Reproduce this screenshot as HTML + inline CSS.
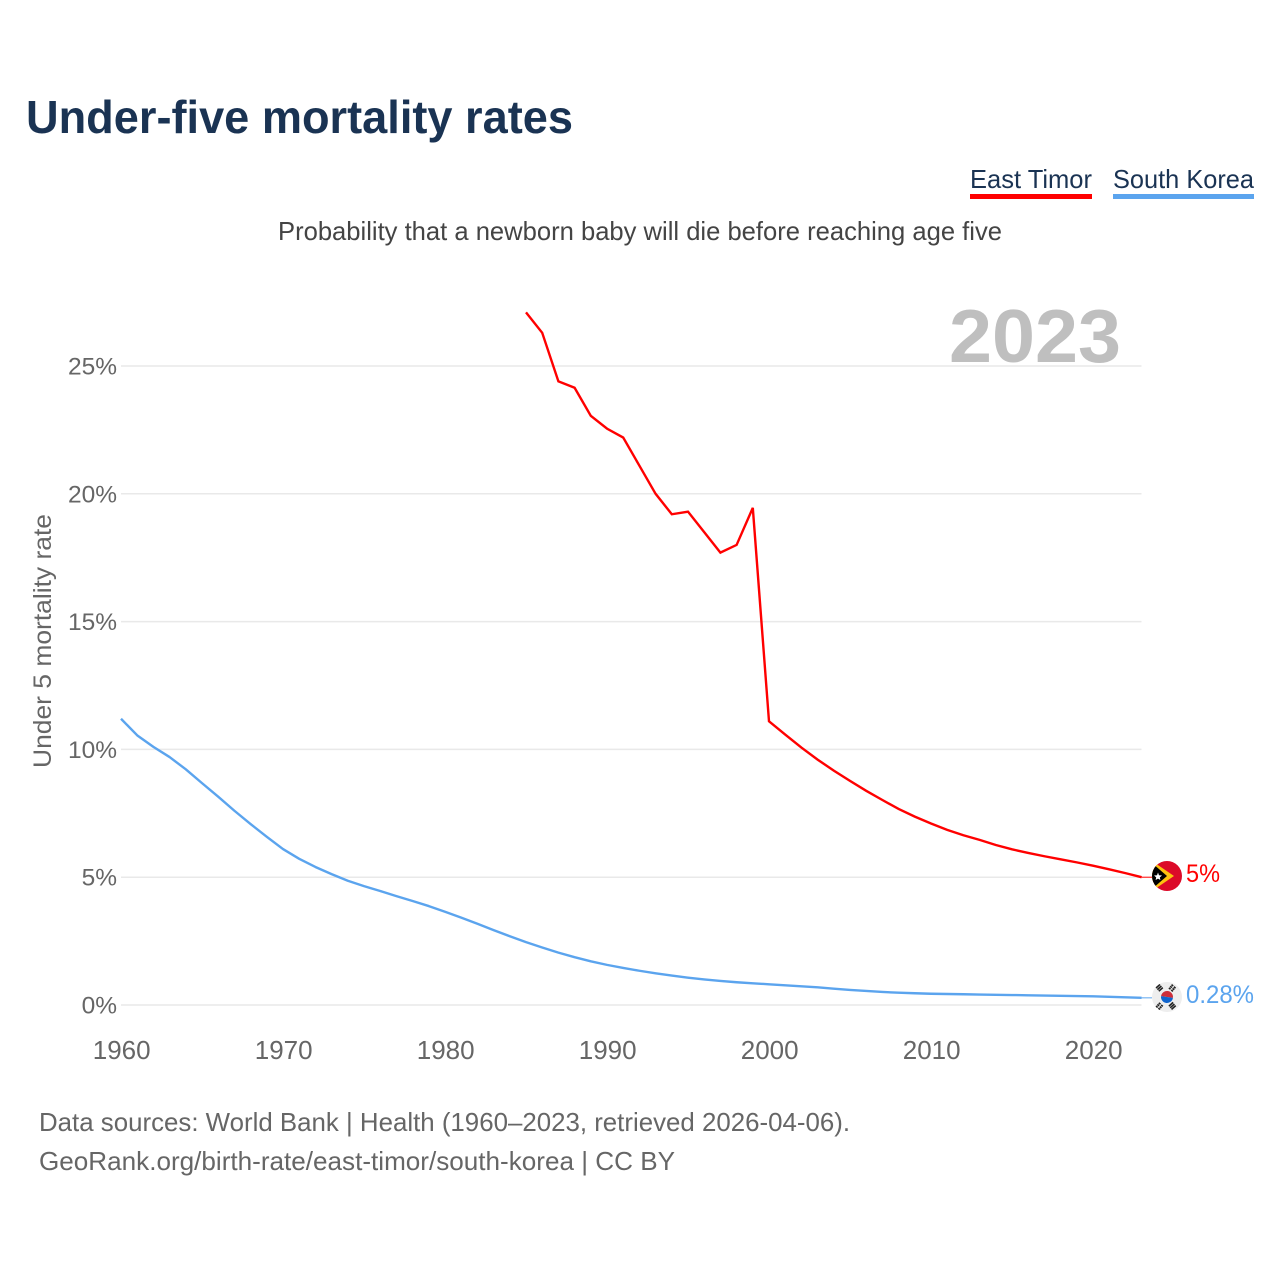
<!DOCTYPE html>
<html lang="en">
<head>
<meta charset="utf-8">
<title>Under-five mortality rates</title>
<style>
html,body{margin:0;padding:0;background:#fff;}
svg{display:block;font-family:"Liberation Sans",sans-serif;}
</style>
</head>
<body>
<svg id="chart" width="1280" height="1280" viewBox="0 0 1280 1280" xmlns="http://www.w3.org/2000/svg">
  <rect x="0" y="0" width="1280" height="1280" fill="#ffffff"/>
  <text x="26" y="133" font-size="46" font-weight="700" fill="#1a3353" textLength="547" lengthAdjust="spacingAndGlyphs">Under-five mortality rates</text>

  <g>
    <text x="970" y="188" font-size="26" fill="#1a3353" textLength="122" lengthAdjust="spacingAndGlyphs">East Timor</text>
    <rect x="970" y="194" width="122" height="5" fill="#ff0000"/>
  </g>
  <g>
    <text x="1113" y="188" font-size="26" fill="#1a3353" textLength="141" lengthAdjust="spacingAndGlyphs">South Korea</text>
    <rect x="1113" y="194" width="141" height="5" fill="#5ba4ee"/>
  </g>

  <text x="278" y="240" font-size="26" fill="#444444" textLength="724" lengthAdjust="spacingAndGlyphs">Probability that a newborn baby will die before reaching age five</text>
  <text transform="translate(51 768) rotate(-90)" font-size="25" fill="#666666" textLength="254" lengthAdjust="spacingAndGlyphs">Under 5 mortality rate</text>

  <g id="grid"></g>
  <g id="yticks"></g>
  <g id="xticks"></g>

  <text x="949" y="362" font-size="75" font-weight="700" fill="#bfbfbf" textLength="172" lengthAdjust="spacingAndGlyphs">2023</text>

  <g id="series"></g>

  <defs>
    <clipPath id="clip-tl"><circle cx="1167" cy="876" r="15"/></clipPath>
    <clipPath id="clip-kr"><circle cx="1167" cy="997" r="15"/></clipPath>
  </defs>

  <g clip-path="url(#clip-tl)">
    <rect x="1150" y="859" width="34" height="34" fill="#dc0a28"/>
    <polygon points="1152,861 1174,876 1152,891" fill="#fcc20f"/>
    <polygon points="1152,863 1167,876 1152,889" fill="#000000"/>
    <polygon points="1158,872.5 1159,875.2 1162,875.5 1159.8,877.4 1160.4,880 1158,878.6 1155.6,880 1156.2,877.4 1154,875.5 1157,875.2" fill="#ffffff"/>
  </g>
  <g clip-path="url(#clip-kr)">
    <rect x="1150" y="980" width="34" height="34" fill="#eeeeee"/>
    <g transform="rotate(8 1167 997)">
      <path d="M1161 997 a6 6 0 0 1 12 0 z" fill="#cd2e3a"/>
      <path d="M1161 997 a6 6 0 0 0 12 0 z" fill="#0f64cd"/>
    </g>
    <g stroke="#222222" stroke-width="1.6" fill="none">
      <path d="M1156 988l4 -3.6M1157.4 989.6l4 -3.6M1158.8 991.2l4 -3.6"/>
      <path d="M1171.5 984.6l4.2 3.8M1170.2 986.2l4.2 3.8M1168.9 987.8l4.2 3.8" stroke-dasharray="2.2 1"/>
      <path d="M1156 1006l4 3.6M1157.4 1004.4l4 3.6M1158.8 1002.8l4 3.6" stroke-dasharray="2.2 1"/>
      <path d="M1171.5 1009.4l4.2 -3.8M1170.2 1007.8l4.2 -3.8M1168.9 1006.2l4.2 -3.8"/>
    </g>
  </g>

  <text x="1186" y="882" font-size="25" fill="#ff0000" textLength="34" lengthAdjust="spacingAndGlyphs">5%</text>
  <text x="1186" y="1003" font-size="25" fill="#5ba4ee" textLength="68" lengthAdjust="spacingAndGlyphs">0.28%</text>

  <text x="39" y="1131" font-size="26" fill="#666666" textLength="811" lengthAdjust="spacingAndGlyphs">Data sources: World Bank | Health (1960–2023, retrieved 2026-04-06).</text>
  <text x="39" y="1170" font-size="26" fill="#666666" textLength="636" lengthAdjust="spacingAndGlyphs">GeoRank.org/birth-rate/east-timor/south-korea | CC BY</text>
</svg>
<script>
const eastTimorStartYear = 1985;
const eastTimorValues = [27.1,26.3,24.4,24.15,23.05,22.55,22.2,21.1,20.0,19.2,19.3,18.5,17.7,18.0,19.45,11.1,10.58,10.07,9.6,9.17,8.77,8.38,8.02,7.67,7.37,7.1,6.85,6.64,6.46,6.26,6.09,5.95,5.82,5.7,5.58,5.45,5.31,5.16,5.0];
const southKoreaStartYear = 1960;
const southKoreaValues = [11.2,10.55,10.1,9.7,9.22,8.68,8.15,7.6,7.08,6.58,6.1,5.72,5.4,5.12,4.86,4.65,4.46,4.26,4.07,3.87,3.65,3.42,3.18,2.93,2.69,2.46,2.25,2.05,1.87,1.71,1.57,1.45,1.34,1.24,1.15,1.07,1.0,0.94,0.89,0.85,0.81,0.77,0.73,0.69,0.64,0.59,0.55,0.51,0.48,0.46,0.44,0.43,0.42,0.41,0.40,0.39,0.38,0.37,0.36,0.35,0.34,0.32,0.30,0.28];
const yTickValues = [0,5,10,15,20,25];
const yTickLabels = ['0%','5%','10%','15%','20%','25%'];
const xTickYears = [1960,1970,1980,1990,2000,2010,2020];
const lastYear = 2023;

const SVG_NS = 'http://www.w3.org/2000/svg';
function xScale(year) { return 121 + (year - 1960) * 16.2; }
function yScale(value) { return 1005 - value * 25.56; }
function linePath(startYear, values) {
  return values.map(function (v, i) {
    return (i ? 'L' : 'M') + xScale(startYear + i).toFixed(2) + ' ' + yScale(v).toFixed(2);
  }).join(' ');
}
function make(tag, attrs) {
  const el = document.createElementNS(SVG_NS, tag);
  Object.keys(attrs).forEach(function (k) { el.setAttribute(k, attrs[k]); });
  return el;
}

const grid = document.getElementById('grid');
const yticks = document.getElementById('yticks');
yTickValues.forEach(function (v, i) {
  const line = make('line', {x1: 121, x2: 1141.5, y1: yScale(v), y2: yScale(v), stroke: '#e9e9e9', 'stroke-width': 1.5});
  
  
  grid.appendChild(line);
  const label = make('text', {x: 117, y: yScale(v) + 8.5, 'text-anchor': 'end', 'font-size': 24.5, fill: '#666666'});
  
  
  label.textContent = yTickLabels[i];
  yticks.appendChild(label);
});

const xticks = document.getElementById('xticks');
xTickYears.forEach(function (year) {
  const label = make('text', {x: xScale(year) + 0.7, y: 1059, 'text-anchor': 'middle', 'font-size': 26, fill: '#666666'});
  
  
  label.textContent = String(year);
  xticks.appendChild(label);
});

const series = document.getElementById('series');

const koreaLine = make('path', {d: linePath(southKoreaStartYear, southKoreaValues), fill: 'none', stroke: '#5ba4ee', 'stroke-width': 2.4, 'stroke-linejoin': 'round'});


series.appendChild(koreaLine);

const timorLine = make('path', {d: linePath(eastTimorStartYear, eastTimorValues), fill: 'none', stroke: '#ff0000', 'stroke-width': 2.4, 'stroke-linejoin': 'miter'});


series.appendChild(timorLine);

const koreaLast = southKoreaValues[southKoreaValues.length - 1];
const koreaLeader = make('line', {x1: xScale(lastYear), x2: 1152, y1: yScale(koreaLast), y2: yScale(koreaLast), stroke: '#5ba4ee', 'stroke-width': 1});


series.appendChild(koreaLeader);

const timorLast = eastTimorValues[eastTimorValues.length - 1];
const timorLeader = make('line', {x1: xScale(lastYear), x2: 1152, y1: yScale(timorLast), y2: yScale(timorLast), stroke: '#ff0000', 'stroke-width': 1});


series.appendChild(timorLeader);
</script>
</body>
</html>
